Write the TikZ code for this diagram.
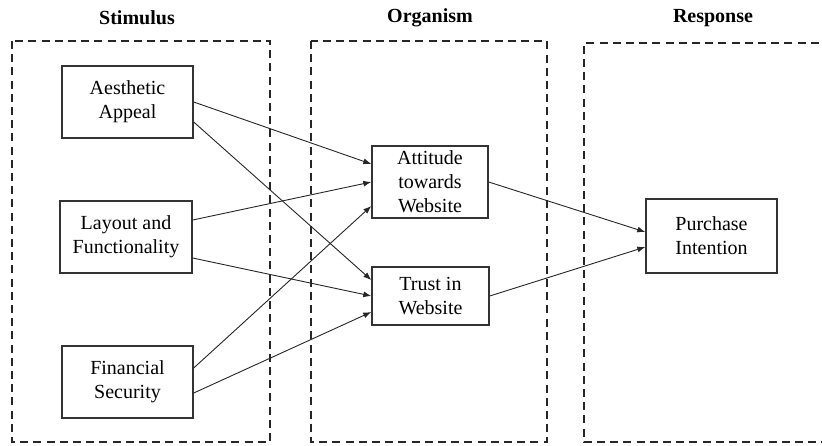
\documentclass[tikz,border=0pt]{standalone}
\usepackage{fontspec}
\setmainfont{Liberation Serif}
\usepackage{tikz}
\usetikzlibrary{arrows.meta}

\begin{document}
\begin{tikzpicture}[
    x=0.5pt, y=-0.5pt,
    box/.style={rectangle, draw=black!80, line width=0.7pt, align=center, inner sep=1pt, font=\fontsize{10}{12}\selectfont},
    group/.style={draw=black!85, line width=0.9pt, dash pattern=on 4pt off 2.6pt},
    title/.style={font=\fontsize{10}{12}\selectfont\bfseries},
    arr/.style={-{Latex[length=4pt, width=3pt]}, line width=0.45pt, draw=black!85}
]
    \useasboundingbox (0,0) rectangle (822,445);

    % dashed groups
    \draw[group] (12,41) rectangle (270,442);
    \draw[group] (311,41) rectangle (547,442);
    \draw[group] (832,43) -- (584,43) -- (584,442) -- (832,442);

    \node[title] (tstim) at (137,18) {Stimulus};
    \node[title] (torg) at (430,18) {Organism};
    \node[title] (tresp) at (713,18) {Response};

    % constructs
    \node[box, minimum width=65.5pt, minimum height=36pt] (aes) at (127.5,102) {Aesthetic\\Appeal};
    \node[box, minimum width=66pt, minimum height=36pt] (lay) at (126,237) {Layout and\\Functionality};
    \node[box, minimum width=65.5pt, minimum height=36pt] (fin) at (127.5,382) {Financial\\Security};
    \node[box, minimum width=58pt, minimum height=36pt] (att) at (430,182) {Attitude\\towards\\Website};
    \node[box, minimum width=58.5pt, minimum height=29pt] (tru) at (430.5,296) {Trust in\\Website};
    \node[box, minimum width=65.5pt, minimum height=37pt] (pur) at (711.5,236) {Purchase\\Intention};

    \draw[arr] (aes.east) -- ([yshift=9pt]att.west);
    \draw[arr] ([yshift=-10pt]aes.east) -- ([yshift=8pt]tru.west);
    \draw[arr] ([yshift=8.5pt]lay.east) -- (att.west);
    \draw[arr] ([yshift=-10.5pt]lay.east) -- (tru.west);
    \draw[arr] ([yshift=7pt]fin.east) -- ([yshift=-12pt]att.west);
    \draw[arr] ([yshift=-5.5pt]fin.east) -- ([yshift=-8pt]tru.west);
    \draw[arr] (att.east) -- ([yshift=2pt]pur.west);
    \draw[arr] (tru.east) -- ([yshift=-5.5pt]pur.west);
\end{tikzpicture}
\end{document}
